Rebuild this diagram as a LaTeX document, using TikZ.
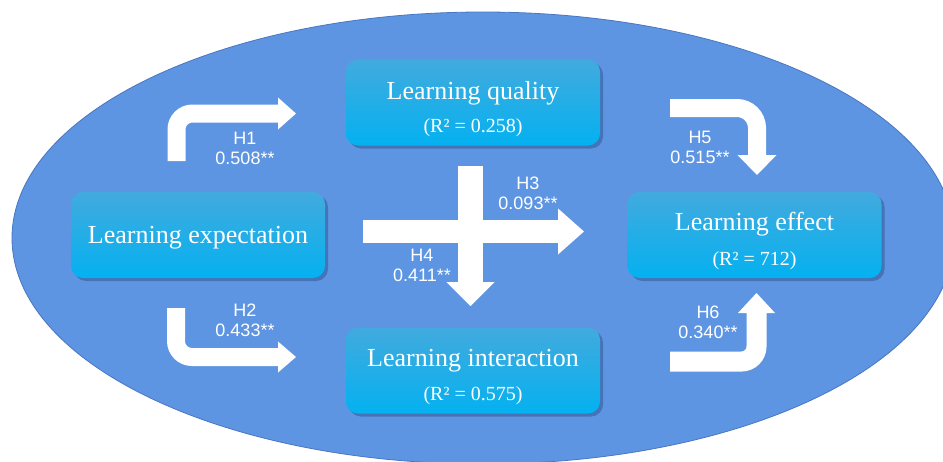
\documentclass[tikz,border=0pt]{standalone}
\usepackage{fontspec}
\setmainfont{Liberation Serif}
\setsansfont{Liberation Sans}
\usetikzlibrary{shadows,calc}
\definecolor{ovalfill}{RGB}{94,149,227}
\definecolor{ovaledge}{RGB}{72,118,192}
\definecolor{boxtop}{RGB}{66,170,222}
\definecolor{boxbot}{RGB}{4,177,240}
\definecolor{boxshade}{RGB}{36,64,116}

\begin{document}
\begin{tikzpicture}[x=1pt,y=-1pt,
  factor/.style={rounded corners=12pt, minimum width=254pt, minimum height=86pt,
    inner sep=0pt, top color=boxtop, bottom color=boxbot, draw=none,
    drop shadow={shadow xshift=3pt, shadow yshift=-3pt, opacity=0.4, fill=boxshade}},
  title/.style={anchor=base, text=white, inner sep=0pt, font=\fontsize{26}{30}\selectfont},
  rsq/.style={anchor=base, text=white, inner sep=0pt, font=\fontsize{20}{24}\selectfont},
  shaft/.style={draw=white, line cap=butt},
  tip/.style={fill=white},
  coef/.style={text=white, align=center, inner sep=0pt,
    font=\sffamily\fontsize{18}{20}\selectfont}]

% canvas
\fill[white] (0,0) rectangle (943,461);
\useasboundingbox (0,0) rectangle (943,461);

% background oval
\begin{scope}
  \clip (0,0) rectangle (943,461);
  \fill[ovalfill, draw=ovaledge, line width=0.8pt] (483,238) ellipse [x radius=471, y radius=226];
\end{scope}

% constructs
\node[factor] (exp)   at (198,235)   {};
\node[factor] (qual)  at (473,102.5) {};
\node[factor] (inter) at (473,370.5) {};
\node[factor] (eff)   at (754.5,235) {};

\node[title] (expT)   at ($(exp.center)+(0,8)$)    {Learning expectation};
\node[title] (qualT)  at ($(qual.center)+(0,-3.5)$) {Learning quality};
\node[rsq]   (qualR)  at ($(qual.center)+(0,29.5)$) {(R² = 0.258)};
\node[title] (interT) at ($(inter.center)+(0,-4)$) {Learning interaction};
\node[rsq]   (interR) at ($(inter.center)+(0,30)$)  {(R² = 0.575)};
\node[title] (effT)   at ($(eff.center)+(0,-5)$)   {Learning effect};
\node[rsq]   (effR)   at ($(eff.center)+(0,30)$)   {(R² = 712)};

% H1: expectation -> quality
\coordinate (h1a) at (176.5,161);
\coordinate (h1b) at (176.5,113.5);
\coordinate (h1c) at (279,113.5);
\draw[shaft, line width=18pt, rounded corners=16pt] (h1a) -- (h1b) -- (h1c);
\fill[tip] (h1c) ++(-1,-16) -- ++(18,16) -- ++(-18,16) -- cycle;

% H2: expectation -> interaction
\coordinate (h2a) at (176,308);
\coordinate (h2b) at (176,357);
\coordinate (h2c) at (279,357);
\draw[shaft, line width=18pt, rounded corners=16pt] (h2a) -- (h2b) -- (h2c);
\fill[tip] (h2c) ++(-1,-15.5) -- ++(18,15.5) -- ++(-18,15.5) -- cycle;

% H4: quality -> interaction
\coordinate (h4a) at (470.5,166);
\coordinate (h4b) at (470.5,283);
\draw[shaft, line width=25pt] (h4a) -- (h4b);
\fill[tip] (h4b) ++(-24,-1) -- ++(24,24) -- ++(24,-24) -- cycle;

% H3: expectation -> effect
\coordinate (h3a) at (363,231.5);
\coordinate (h3b) at (559,231.5);
\draw[shaft, line width=23pt] (h3a) -- (h3b);
\fill[tip] (h3b) ++(-1,-23) -- ++(26,23) -- ++(-26,23) -- cycle;

% H5: quality -> effect
\coordinate (h5a) at (670,108);
\coordinate (h5b) at (757,108);
\coordinate (h5c) at (757,156);
\draw[shaft, line width=18pt, rounded corners=20pt] (h5a) -- (h5b) -- (h5c);
\fill[tip] (h5c) ++(-19.5,-1) -- ++(19.5,20) -- ++(19.5,-20) -- cycle;

% H6: interaction -> effect
\coordinate (h6a) at (670,361.5);
\coordinate (h6b) at (756.5,361.5);
\coordinate (h6c) at (756.5,312);
\draw[shaft, line width=20pt, rounded corners=15pt] (h6a) -- (h6b) -- (h6c);
\fill[tip] (h6c) ++(-18.5,1) -- ++(18.5,-20) -- ++(18.5,20) -- cycle;

% path coefficients
\node[coef] (c1) at (245,148)   {H1\\0.508**};
\node[coef] (c2) at (245,320.5) {H2\\0.433**};
\node[coef] (c3) at (528,193)   {H3\\0.093**};
\node[coef] (c4) at (422,265)   {H4\\0.411**};
\node[coef] (c5) at (700,147)   {H5\\0.515**};
\node[coef] (c6) at (708,322.5) {H6\\0.340**};
\end{tikzpicture}
\end{document}
